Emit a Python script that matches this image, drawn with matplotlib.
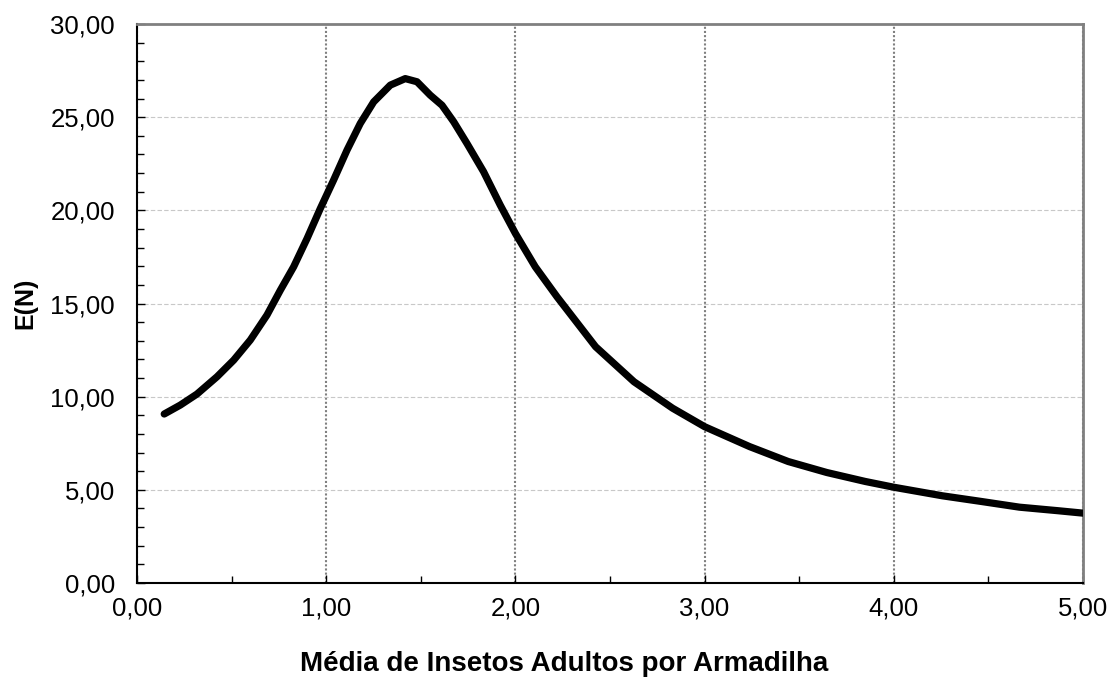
import matplotlib.pyplot as plt
from matplotlib.ticker import MultipleLocator, FuncFormatter

plt.rcParams['font.family'] = ['Liberation Sans', 'DejaVu Sans']

# curve
media = [0.144, 0.229, 0.317, 0.423, 0.511, 0.599, 0.687, 0.758, 0.828, 0.899, 0.969, 1.039,
         1.110, 1.180, 1.251, 1.339, 1.418, 1.480, 1.550, 1.612, 1.674, 1.744, 1.832, 1.920,
         2.000, 2.105, 2.220, 2.424, 2.627, 2.831, 3.000, 3.238, 3.442, 3.646, 3.849, 4.000,
         4.257, 4.460, 4.664, 4.868, 5.000]
en = [9.07, 9.55, 10.14, 11.07, 11.96, 13.04, 14.38, 15.72, 16.97, 18.49, 20.10, 21.62,
      23.23, 24.66, 25.82, 26.72, 27.07, 26.90, 26.18, 25.64, 24.75, 23.59, 22.07, 20.28,
      18.76, 16.97, 15.36, 12.68, 10.80, 9.38, 8.39, 7.32, 6.52, 5.93, 5.45, 5.14,
      4.68, 4.38, 4.07, 3.88, 3.75]

fig = plt.figure(figsize=(11.11, 6.78), dpi=100)
ax = fig.add_axes([0.1233, 0.1401, 0.8515, 0.8245])

ax.plot(media, en, color='black', lw=5.2, solid_capstyle='round', solid_joinstyle='round', zorder=3)

ax.set_xlim(0, 5)
ax.set_ylim(0, 30)
ax.xaxis.set_major_locator(MultipleLocator(1))
ax.xaxis.set_minor_locator(MultipleLocator(0.5))
ax.yaxis.set_major_locator(MultipleLocator(5))
ax.yaxis.set_minor_locator(MultipleLocator(1))
fmt = FuncFormatter(lambda v, p: f'{v:.2f}'.replace('.', ','))
ax.xaxis.set_major_formatter(fmt)
ax.yaxis.set_major_formatter(fmt)

ax.tick_params(which='major', direction='in', length=6, width=1, labelsize=18.5, color='black')
ax.tick_params(which='minor', direction='in', length=5, width=1, color='black')
ax.tick_params(axis='x', which='major', pad=10)
ax.tick_params(axis='y', which='major', pad=16)

ax.yaxis.grid(True, which='major', color='#c8c8c8', ls=(0, (4, 2)), lw=0.8)
ax.xaxis.grid(True, which='major', color='#808080', ls=(0, (1, 1)), lw=1.5)

ax.spines['left'].set_color('black')
ax.spines['bottom'].set_color('black')
ax.spines['left'].set_linewidth(1.5)
ax.spines['bottom'].set_linewidth(1.5)
ax.spines['top'].set_color('#808080')
ax.spines['right'].set_color('#808080')
ax.spines['top'].set_linewidth(2)
ax.spines['right'].set_linewidth(2)

ax.set_xlabel('Média de Insetos Adultos por Armadilha', fontsize=20, fontweight='bold')
ax.set_ylabel('E(N)', fontsize=18, fontweight='bold')
ax.xaxis.set_label_coords(0.452, -0.122)
ax.yaxis.set_label_coords(-0.105, 0.5)

fig.savefig('out.png', dpi=100)
